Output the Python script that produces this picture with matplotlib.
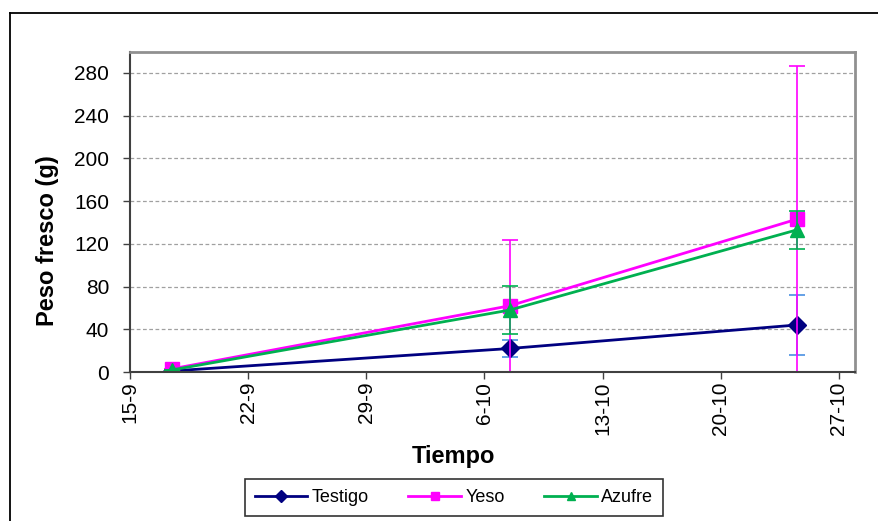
import matplotlib
matplotlib.use("Agg")
import matplotlib.pyplot as plt
import matplotlib.dates as mdates
from matplotlib.lines import Line2D
import numpy as np

plt.rcParams["font.family"] = ["Liberation Sans", "DejaVu Sans"]

# Sampling dates and fresh weight (g) per treatment, with standard deviations
fechas = np.array(["2009-09-17T12", "2009-10-07T12", "2009-10-24T12"], dtype="datetime64[h]")
testigo = [1, 22, 44]
testigo_de = [0, 7.5, 28.5]
yeso = [3, 62, 143]
yeso_de = [0, 62, 143]
azufre = [2, 58, 133]
azufre_de = [0, 22.5, 17.5]

tick_fechas = np.array(["2009-09-15", "2009-09-22", "2009-09-29", "2009-10-06",
                        "2009-10-13", "2009-10-20", "2009-10-27"], dtype="datetime64[D]")
tick_labels = ["15-9", "22-9", "29-9", "6-10", "13-10", "20-10", "27-10"]
y_ticks = [0, 40, 80, 120, 160, 200, 240, 280]

W, H = 879, 521
fig = plt.figure(figsize=(W / 100, H / 100), dpi=100)
ax = fig.add_axes([130 / W, (H - 372) / H, (855 - 130) / W, (372 - 51.5) / H])

x = mdates.date2num(fechas.astype("datetime64[s]").astype(object))

series = [
    ("Testigo", testigo, testigo_de, "#000080", "#4a90e2", "D", 9),
    ("Yeso", yeso, yeso_de, "#ff00ff", "#ff00ff", "s", 10),
    ("Azufre", azufre, azufre_de, "#00b050", "#00b050", "^", 10),
]

handles = []
for i, (name, vals, de, col, ecol, mk, ms) in enumerate(series):
    ax.errorbar(x, vals, yerr=de, fmt="none", ecolor=ecol, elinewidth=1.2,
                capsize=6, capthick=1.2, zorder=3 + i)
    ax.plot(x, vals, color=col, lw=2, marker=mk, ms=ms, mfc=col, mec=col, zorder=3 + i)
    handles.append(Line2D([], [], color=col, lw=2, marker=mk, ms=6, mfc=col, mec=col, label=name))

xt = mdates.date2num(tick_fechas.astype("datetime64[s]").astype(object))
ax.set_xticks(xt)
ax.set_xticklabels(tick_labels, rotation=90, fontsize=15)
ax.set_xlim(xt[0], xt[0] + 42.95)
ax.set_ylim(0, 300)
ax.set_yticks(y_ticks)
ax.set_yticklabels([str(v) for v in y_ticks], fontsize=15)
ax.tick_params(axis="both", direction="out", length=5, width=1, color="#404040")
ax.tick_params(axis="y", pad=10)
ax.tick_params(axis="x", pad=2)

ax.yaxis.grid(True, color="#a0a0a0", linestyle=(0, (3, 2)), lw=0.9)
ax.set_axisbelow(True)

for side in ["top", "right"]:
    ax.spines[side].set_color("#909090")
    ax.spines[side].set_linewidth(2)
for side in ["left", "bottom"]:
    ax.spines[side].set_color("#404040")
    ax.spines[side].set_linewidth(1.5)
for sp in ax.spines.values():
    sp.set_zorder(10)

fig.text(48 / W, 1 - 241 / H, "Peso fresco (g)", rotation=90, ha="center", va="center",
         fontsize=17, fontweight="bold")
fig.text(453 / W, 1 - 457 / H, "Tiempo", ha="center", va="center",
         fontsize=17, fontweight="bold")

leg = fig.legend(handles=handles, ncol=3, loc="center",
                 bbox_to_anchor=(454 / W, (H - 497.5) / H), fontsize=13,
                 frameon=True, fancybox=False, edgecolor="black",
                 handlelength=2.9, handletextpad=0.25, columnspacing=2.2, borderpad=0.55,
                 borderaxespad=0)
leg.get_frame().set_linewidth(1.2)

# Outer chart frame (top and left edges)
fig.add_artist(Line2D([10 / W, 1], [(H - 13) / H, (H - 13) / H], color="black", lw=1.3))
fig.add_artist(Line2D([10 / W, 10 / W], [0, (H - 13) / H], color="black", lw=1.3))

fig.savefig("out.png", dpi=100)
